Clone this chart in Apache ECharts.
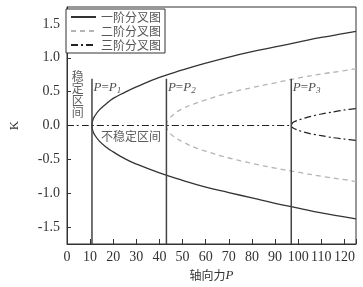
<!DOCTYPE html>
<html>
<head>
<meta charset="UTF-8">
<title>分叉图</title>
<script src="https://cdn.jsdelivr.net/npm/echarts@6/dist/echarts.min.js"></script>
<style>
  html, body { margin: 0; padding: 0; background: #fff; }
  #main { width: 363px; height: 287px; }
</style>
</head>
<body>
<div id="main"></div>
<script>
// 读图得到的数据 (P, K)
var firstP     = [10.8, 11, 12, 14, 17, 20, 25, 30, 40, 50, 60, 70, 80, 90, 100, 110, 120, 125];
var firstUp    = [0, 0.06, 0.14, 0.23, 0.32, 0.40, 0.49, 0.57, 0.71, 0.82, 0.92, 1.01, 1.09, 1.16, 1.23, 1.30, 1.36, 1.39];
var firstDown  = [0, -0.06, -0.14, -0.23, -0.32, -0.39, -0.49, -0.57, -0.70, -0.81, -0.91, -0.99, -1.07, -1.15, -1.22, -1.29, -1.35, -1.38];

var secondP    = [43, 43.2, 44, 46, 50, 55, 60, 70, 80, 90, 100, 110, 120, 125];
var secondUp   = [0, 0.04, 0.09, 0.16, 0.25, 0.32, 0.38, 0.48, 0.56, 0.63, 0.70, 0.76, 0.81, 0.84];
var secondDown = [0, -0.04, -0.09, -0.16, -0.24, -0.32, -0.38, -0.48, -0.56, -0.63, -0.69, -0.75, -0.80, -0.83];

var thirdP     = [0, 97, 97.2, 98, 100, 105, 110, 115, 120, 125];
var thirdUp    = [0, 0, 0.02, 0.05, 0.08, 0.13, 0.17, 0.20, 0.23, 0.25];
var thirdDown  = [null, 0, -0.02, -0.04, -0.07, -0.12, -0.15, -0.18, -0.20, -0.22];

var critLoads  = [10.8, 43, 97];
var critNames  = ['1', '2', '3'];
var critTop    = 0.69;

var legendNames = ['一阶分叉图', '二阶分叉图', '三阶分叉图'];
var yTicks = [-1.5, -1.0, -0.5, 0, 0.5, 1.0, 1.5];

function pairs(xs, ys) {
  var out = [];
  for (var i = 0; i < xs.length; i++) {
    if (ys[i] !== null) out.push([xs[i], ys[i]]);
  }
  return out;
}

var chart = echarts.init(document.getElementById('main'));

var solid = { color: '#333', width: 1.3, type: 'solid' };
var dashed = { color: '#b4b4b4', width: 1.3, type: [5, 4] };
var dashDot = { color: '#222', width: 1.2, type: [7, 3, 2, 3] };

var series = [
  { name: legendNames[0], type: 'line', data: pairs(firstP, firstUp), smooth: true, symbol: 'none', lineStyle: solid, itemStyle: { color: '#333' } },
  { name: legendNames[0], type: 'line', data: pairs(firstP, firstDown), smooth: true, symbol: 'none', lineStyle: solid, itemStyle: { color: '#333' } },
  { name: legendNames[1], type: 'line', data: pairs(secondP, secondUp), smooth: true, symbol: 'none', lineStyle: dashed, itemStyle: { color: '#b4b4b4' } },
  { name: legendNames[1], type: 'line', data: pairs(secondP, secondDown), smooth: true, symbol: 'none', lineStyle: dashed, itemStyle: { color: '#b4b4b4' } },
  { name: legendNames[2], type: 'line', data: pairs(thirdP, thirdUp), smooth: 0.3, symbol: 'none', lineStyle: dashDot, itemStyle: { color: '#222' } },
  { name: legendNames[2], type: 'line', data: pairs(thirdP, thirdDown), smooth: 0.3, symbol: 'none', lineStyle: dashDot, itemStyle: { color: '#222' } }
];

// 临界荷载竖线及标注
critLoads.forEach(function (p, i) {
  series.push({
    type: 'line', silent: true, symbol: 'none',
    data: [[p, -1.75], [p, critTop]],
    lineStyle: { color: '#444', width: 1.5 }
  });
  series.push({
    type: 'scatter', silent: true, symbolSize: 1,
    itemStyle: { color: 'transparent' },
    data: [[p, 0.56]],
    label: {
      show: true, position: 'right', distance: 1,
      formatter: '{i|P}{n|=}{i|P}{s|' + critNames[i] + '}',
      rich: {
        i: { fontFamily: 'Liberation Serif', fontStyle: 'italic', fontSize: 13, color: '#222' },
        n: { fontFamily: 'Liberation Serif', fontSize: 13, color: '#222' },
        s: { fontFamily: 'Liberation Serif', fontStyle: 'italic', fontSize: 9, color: '#222', padding: [7, 0, 0, 0] }
      }
    }
  });
});

// 区间文字
series.push({
  type: 'scatter', silent: true, symbolSize: 1,
  itemStyle: { color: 'transparent' },
  data: [[4.7, 0.46], [27.7, -0.16]],
  label: {
    show: true, position: 'inside',
    fontFamily: 'Noto Sans CJK SC', fontSize: 12, color: '#333', lineHeight: 12,
    formatter: function (p) { return p.dataIndex === 0 ? '稳\n定\n区\n间' : '不稳定区间'; }
  }
});

var option = {
  animation: false,
  grid: { left: 62, top: 7, right: 7, bottom: 43, show: true, borderColor: '#333', borderWidth: 1 },
  legend: {
    data: legendNames,
    orient: 'vertical', left: 66, top: 9,
    itemWidth: 25, itemHeight: 14, itemGap: 0,
    padding: [1, 4, 1, 4], borderColor: '#333', borderWidth: 1, backgroundColor: '#fff',
    itemStyle: { opacity: 0 },
    textStyle: { fontFamily: 'Noto Sans CJK SC', fontSize: 12, color: '#555', lineHeight: 14 }
  },
  xAxis: {
    type: 'value', min: 0, max: 125, interval: 10,
    name: '{a|轴向力}{b|P}', nameLocation: 'middle', nameGap: 24,
    nameTextStyle: {
      rich: {
        a: { fontFamily: 'Noto Sans CJK SC', fontSize: 12, color: '#333' },
        b: { fontFamily: 'Liberation Serif', fontStyle: 'italic', fontSize: 13, color: '#333' }
      }
    },
    splitLine: { show: false },
    axisLine: { onZero: false, lineStyle: { color: '#333', width: 1 } },
    axisTick: { inside: true, length: 5, lineStyle: { color: '#333' } },
    axisLabel: { fontFamily: 'Liberation Serif', fontSize: 14, color: '#333', margin: 6,
      formatter: function (v) { return v > 121 ? '' : v; } }
  },
  yAxis: {
    type: 'value', min: -1.75, max: 1.75,
    name: 'K', nameLocation: 'middle', nameGap: 46,
    nameTextStyle: { fontFamily: 'Liberation Serif', fontSize: 13, color: '#333' },
    splitLine: { show: false },
    axisLine: { show: true, onZero: false, lineStyle: { color: '#333', width: 1 } },
    axisTick: { inside: true, length: 4, customValues: yTicks, lineStyle: { color: '#333' } },
    axisLabel: { fontFamily: 'Liberation Serif', fontSize: 14, color: '#333', margin: 7,
      customValues: yTicks,
      formatter: function (v) { return v.toFixed(1); } }
  },
  series: series
};

chart.setOption(option);
</script>
</body>
</html>
